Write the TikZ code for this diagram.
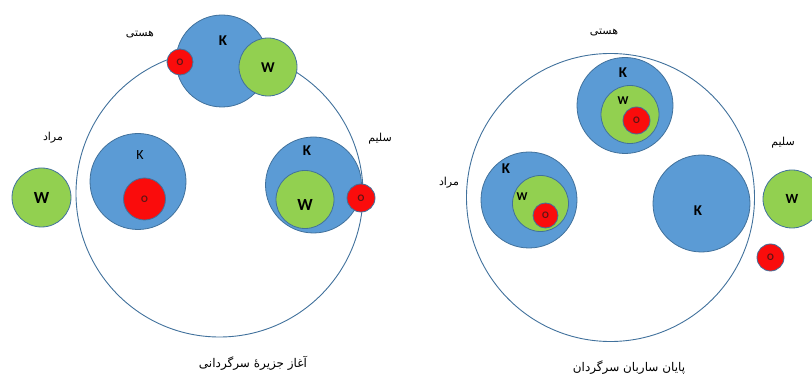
\documentclass[tikz,border=0pt]{standalone}
\usepackage{fontspec}
\setsansfont{Carlito}
\newfontfamily\farsi[Script=Arabic]{DejaVu Sans}
\TeXXeTstate=1
\usetikzlibrary{positioning}
\definecolor{kblue}{RGB}{91,155,213}
\definecolor{wgreen}{RGB}{146,208,80}
\definecolor{ored}{RGB}{250,12,12}
\definecolor{rim}{RGB}{65,113,156}
\definecolor{otext}{RGB}{95,20,20}
\newcommand{\fa}[1]{\farsi\beginR #1\endR}
\tikzset{
x=1pt,y=-1pt, % pixel units, y down
my circ/.style={circle,draw=rim,line width=0.8pt,inner sep=0pt,font=\sffamily\bfseries},
kc/.style={my circ,fill=kblue,minimum size=#1},
wc/.style={my circ,fill=wgreen,minimum size=#1,font=\sffamily\bfseries\fontsize{17}{17}\selectfont},
oc/.style={my circ,fill=ored,minimum size=#1,text=otext,font=\sffamily\bfseries\fontsize{10}{10}\selectfont},
bigc/.style={circle,draw=rim,line width=0.9pt,minimum size=#1,inner sep=0pt},
klab/.style={inner sep=0pt,font=\sffamily\bfseries\fontsize{15}{15}\selectfont},
wlab/.style={inner sep=0pt,font=\sffamily\bfseries\fontsize{12}{12}\selectfont},
big wlab/.style={inner sep=0pt,font=\sffamily\bfseries\fontsize{17}{17}\selectfont},
name lab/.style={inner sep=0pt,font=\fontsize{11}{13}\selectfont},
caption lab/.style={inner sep=0pt,font=\fontsize{12}{14}\selectfont},
}
\begin{document}
\begin{tikzpicture}
\useasboundingbox (0,0) rectangle (812,379);
% start: the wandering island
\node[bigc=287] (isle) at (219.5,193.5) {};
\node[kc=92] (hK) at (222,61) {};
\node[klab] (hKl) at (223,41) {K};
\node[wc=58] (hW) at (268,67) {};
\node[big wlab,font=\sffamily\bfseries\fontsize{15}{15}\selectfont] (hWl) at (268,68) {W};
\node[oc=26] (hO) at (180,62) {O};
\node[kc=96] (mK) at (138,181.5) {};
\node[klab,font=\sffamily\fontsize{14}{14}\selectfont] (mKl) at (140,155) {K};
\node[oc=42] (mO) at (144.5,199) {O};
\node[wc=59] (mW) at (41.5,197.5) {W};
\node[kc=96] (sK) at (313.5,185) {};
\node[klab] (sKl) at (307,151) {K};
\node[wc=58] (sW) at (305,199.5) {};
\node[big wlab] (sWl) at (305,205) {W};
\node[oc=28] (sO) at (361,198) {O};
\node[name lab] (hName) at (140,35) {\fa{هستی}};
\node[name lab] (mName) at (53,138) {\fa{مراد}};
\node[name lab] (sName) at (380,139) {\fa{سلیم}};
\node[caption lab] (isleCap) at (253,363) {\fa{آغاز جزیرهٔ سرگردانی}};
% end: the wandering camel driver
\node[bigc=288] (caravan) at (610.5,197.5) {};
\node[kc=96] (hK2) at (625,105.5) {};
\node[klab] (hK2l) at (623,73) {K};
\node[wc=58] (hW2) at (630,114.5) {};
\node[wlab] (hW2l) at (623,101) {W};
\node[oc=27] (hO2) at (636.5,120.5) {O};
\node[kc=96] (mK2) at (529,200) {};
\node[klab] (mK2l) at (506,169) {K};
\node[wc=56] (mW2) at (540.5,203.5) {};
\node[wlab] (mW2l) at (522,197) {W};
\node[oc=25] (mO2) at (545.5,215.5) {O};
\node[kc=97] (sK2) at (701.5,203.5) {};
\node[klab] (sK2l) at (698,211) {K};
\node[wc=58,font=\sffamily\bfseries\fontsize{14}{14}\selectfont] (sW2) at (792,199) {W};
\node[oc=27] (sO2) at (770.5,257.5) {O};
\node[name lab] (hName2) at (604,33) {\fa{هستی}};
\node[name lab] (mName2) at (449,183) {\fa{مراد}};
\node[name lab] (sName2) at (783,143) {\fa{سلیم}};
\node[caption lab] (caravanCap) at (629,368) {\fa{پایان ساربان سرگردان}};
\end{tikzpicture}
\end{document}
